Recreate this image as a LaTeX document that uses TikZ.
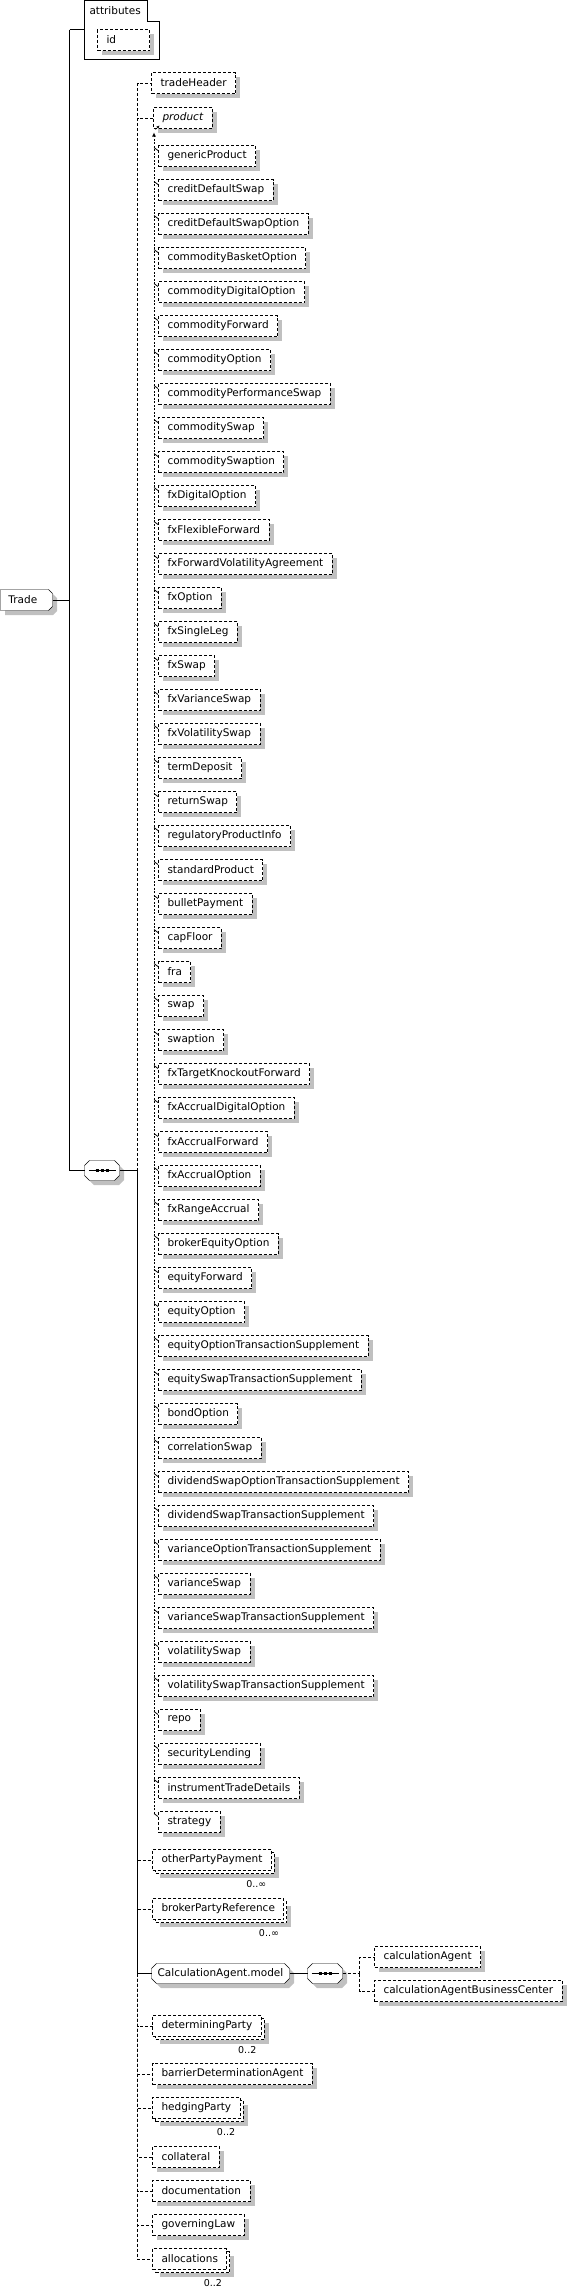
\documentclass[tikz,border=0pt]{standalone}
\usepackage{fontspec}
\setmainfont{DejaVu Sans}
\usepackage{tikz}
\usetikzlibrary{positioning,arrows.meta,shadows}
\definecolor{shadowgray}{HTML}{C0C0C0}
\pgfdeclarelayer{back}
\pgfsetlayers{back,main}
\newcommand{\chamfpath}[2]{([xshift=#2]#1.north west) -- ([xshift=-#2]#1.north east) -- ([yshift=-#2]#1.north east)
  -- ([yshift=#2]#1.south east) -- ([xshift=-#2]#1.south east) -- ([xshift=#2]#1.south west)
  -- ([yshift=#2]#1.south west) -- ([yshift=-#2]#1.north west) -- cycle}

\begin{document}
\begin{tikzpicture}[
  x=1pt, y=-1pt, line width=1pt, shift={(0.5pt,-0.5pt)},
  font=\fontsize{10.5}{12}\selectfont,
  every node/.style={outer sep=0pt},
  dsh/.style={dash pattern=on 3pt off 2pt},
  substline/.style={line width=.8pt, dash pattern=on 2pt off 1.5pt},
  boxbase/.style={draw, dsh, fill=white, anchor=north west, inner xsep=9pt, inner ysep=1pt, minimum height=21pt},
  elem/.style={boxbase, drop shadow={shadow xshift=4.5pt, shadow yshift=-4.5pt, fill=shadowgray, opacity=1}},
  multi/.style={boxbase, drop shadow={shadow xshift=7.5pt, shadow yshift=-7.5pt, fill=shadowgray, opacity=1},
    copy shadow={shadow xshift=3pt, shadow yshift=-3pt, draw=black, fill=white, dsh}},
  under/.style={below=13pt of #1.south west, anchor=north west},
  octo/.style={anchor=north west, inner sep=0pt},
  octline/.style={draw, solid, fill=white, drop shadow={shadow xshift=4.5pt, shadow yshift=-4.5pt, fill=shadowgray, opacity=1}},
  mult/.style={anchor=north east, inner sep=0pt, font=\fontsize{9.5}{11}\selectfont}
]
\useasboundingbox (-0.5,-0.5) rectangle (566.5,2286.5);

% root and attributes
\node[anchor=north west, inner sep=0pt, minimum width=75pt, minimum height=59pt] (attr) at (84,0) {};
\draw (attr.north west) -- ([xshift=-12pt]attr.north east) -- ([xshift=-12pt,yshift=-21pt]attr.north east)
  -- ([yshift=-21pt]attr.north east) -- (attr.south east) -- (attr.south west) -- cycle;
\node[anchor=west, inner sep=0pt] (attrlbl) at (89,10.5) {attributes};
\node[elem, text width=34pt] (id) at (97,29) {id};
\node[octo, text width=36pt, inner xsep=8pt, minimum height=21pt] (trade) at (0,589) {Trade};
\node[octo, minimum width=35pt, minimum height=20pt] (s1) at (84,1160) {};

% sequence children
\node[elem] (th) at (151,72) {tradeHeader};
\node[elem] (prod) at (153,107) {\textit{product}};

% substitution group of product
\node[elem] (m1) at (158,145) {genericProduct};
\node[elem, under=m1] (m2) {creditDefaultSwap};
\node[elem, under=m2] (m3) {creditDefaultSwapOption};
\node[elem, under=m3] (m4) {commodityBasketOption};
\node[elem, under=m4] (m5) {commodityDigitalOption};
\node[elem, under=m5] (m6) {commodityForward};
\node[elem, under=m6] (m7) {commodityOption};
\node[elem, under=m7] (m8) {commodityPerformanceSwap};
\node[elem, under=m8] (m9) {commoditySwap};
\node[elem, under=m9] (m10) {commoditySwaption};
\node[elem, under=m10] (m11) {fxDigitalOption};
\node[elem, under=m11] (m12) {fxFlexibleForward};
\node[elem, under=m12] (m13) {fxForwardVolatilityAgreement};
\node[elem, under=m13] (m14) {fxOption};
\node[elem, under=m14] (m15) {fxSingleLeg};
\node[elem, under=m15] (m16) {fxSwap};
\node[elem, under=m16] (m17) {fxVarianceSwap};
\node[elem, under=m17] (m18) {fxVolatilitySwap};
\node[elem, under=m18] (m19) {termDeposit};
\node[elem, under=m19] (m20) {returnSwap};
\node[elem, under=m20] (m21) {regulatoryProductInfo};
\node[elem, under=m21] (m22) {standardProduct};
\node[elem, under=m22] (m23) {bulletPayment};
\node[elem, under=m23] (m24) {capFloor};
\node[elem, under=m24] (m25) {fra};
\node[elem, under=m25] (m26) {swap};
\node[elem, under=m26] (m27) {swaption};
\node[elem, under=m27] (m28) {fxTargetKnockoutForward};
\node[elem, under=m28] (m29) {fxAccrualDigitalOption};
\node[elem, under=m29] (m30) {fxAccrualForward};
\node[elem, under=m30] (m31) {fxAccrualOption};
\node[elem, under=m31] (m32) {fxRangeAccrual};
\node[elem, under=m32] (m33) {brokerEquityOption};
\node[elem, under=m33] (m34) {equityForward};
\node[elem, under=m34] (m35) {equityOption};
\node[elem, under=m35] (m36) {equityOptionTransactionSupplement};
\node[elem, under=m36] (m37) {equitySwapTransactionSupplement};
\node[elem, under=m37] (m38) {bondOption};
\node[elem, under=m38] (m39) {correlationSwap};
\node[elem, under=m39] (m40) {dividendSwapOptionTransactionSupplement};
\node[elem, under=m40] (m41) {dividendSwapTransactionSupplement};
\node[elem, under=m41] (m42) {varianceOptionTransactionSupplement};
\node[elem, under=m42] (m43) {varianceSwap};
\node[elem, under=m43] (m44) {varianceSwapTransactionSupplement};
\node[elem, under=m44] (m45) {volatilitySwap};
\node[elem, under=m45] (m46) {volatilitySwapTransactionSupplement};
\node[elem, under=m46] (m47) {repo};
\node[elem, under=m47] (m48) {securityLending};
\node[elem, under=m48] (m49) {instrumentTradeDetails};
\node[elem, under=m49] (m50) {strategy};

\node[multi] (opp) at (152,1849) {otherPartyPayment};
\node[mult] (oppn) at ([xshift=-5pt,yshift=-10pt]opp.south east) {0..∞};
\node[multi, below=28pt of opp.south west, anchor=north west] (bpr) {brokerPartyReference};
\node[mult] (bprn) at ([xshift=-5pt,yshift=-10pt]bpr.south east) {0..∞};

\node[octo, minimum width=138pt, minimum height=20pt] (calc) at (151,1963) {CalculationAgent.model};
\node[octo, minimum width=35pt, minimum height=20pt, right=18pt of calc, anchor=west] (s2) {};
\node[elem] (ca) at (374,1946) {calculationAgent};
\node[elem, under=ca] (cabc) {calculationAgentBusinessCenter};

\node[multi] (dp) at (152,2015) {determiningParty};
\node[mult] (dpn) at ([xshift=-5pt,yshift=-10pt]dp.south east) {0..2};
\node[elem, below=27pt of dp.south west, anchor=north west] (bda) {barrierDeterminationAgent};
\node[multi, under=bda] (hp) {hedgingParty};
\node[mult] (hpn) at ([xshift=-5pt,yshift=-10pt]hp.south east) {0..2};
\node[elem, below=28pt of hp.south west, anchor=north west] (col) {collateral};
\node[elem, under=col] (doc) {documentation};
\node[elem, under=doc] (gl) {governingLaw};
\node[multi, under=gl] (alloc) {allocations};
\node[mult] (allocn) at ([xshift=-5pt,yshift=-10pt]alloc.south east) {0..2};

% outlines of root, groups and sequences
\begin{pgfonlayer}{back}
\draw[octline] (trade.north west) -- ([xshift=-4pt]trade.north east) -- ([yshift=-4pt]trade.north east)
  -- ([yshift=4pt]trade.south east) -- ([xshift=-4pt]trade.south east) -- (trade.south west) -- cycle;
\draw[octline] \chamfpath{s1}{5pt};
\draw[octline] \chamfpath{calc}{5pt};
\draw[octline] \chamfpath{s2}{5pt};
\end{pgfonlayer}
\draw ([xshift=4pt]s1.west) -- ([xshift=-4pt]s1.east);
\draw[line width=3pt, dash pattern=on 3pt off 2pt] ([xshift=-6.5pt]s1.center) -- ([xshift=6.5pt]s1.center);
\draw ([xshift=4pt]s2.west) -- ([xshift=-4pt]s2.east);
\draw[line width=3pt, dash pattern=on 3pt off 2pt] ([xshift=-6.5pt]s2.center) -- ([xshift=6.5pt]s2.center);

% connectors
\coordinate (trunk) at (69,29);
\coordinate (bus) at (137,1170);
\coordinate (bus2) at (359,1973);
\draw (trunk) -- ([yshift=-29pt]attr.north west);
\draw (trunk) |- (s1);
\draw (trade) -- (trade -| trunk);
\draw (s1) -- (bus);
\draw[dsh] (bus) |- (th);
\draw[dsh] (bus) |- (prod);
\draw (bus) |- (calc);
\draw[dsh] (bus |- opp.west) -- (opp);
\draw[dsh] (bus |- bpr.west) -- (bpr);
\draw[dsh] (bus |- calc.west) |- (dp);
\draw[dsh] (bus |- calc.west) |- (bda);
\draw[dsh] (bus |- calc.west) |- (hp);
\draw[dsh] (bus |- calc.west) |- (col);
\draw[dsh] (bus |- calc.west) |- (doc);
\draw[dsh] (bus |- calc.west) |- (gl);
\draw[dsh] (bus |- calc.west) |- (alloc);
\draw (calc) -- (s2);
\draw[dsh] (s2) -- (bus2);
\draw[dsh] (bus2) |- (ca);
\draw[dsh] (bus2) |- (cabc);

% substitution line up to product
\draw[substline, -{Latex[length=4pt,width=4pt]}] ([xshift=-4.5pt,yshift=-2pt]m50.north west) -- ([xshift=0.5pt,yshift=-4pt]prod.south west);
\draw[-{Latex[length=3pt,width=3pt]}] ([xshift=2pt,yshift=-1pt]prod.south west) -- ([xshift=6pt,yshift=3pt]prod.south west);
\foreach \i in {1,...,50}
  \draw[line width=.8pt] ([xshift=-4.5pt,yshift=-2pt]m\i.north west) -- ([xshift=-0.5pt,yshift=-5pt]m\i.north west);
\end{tikzpicture}
\end{document}
